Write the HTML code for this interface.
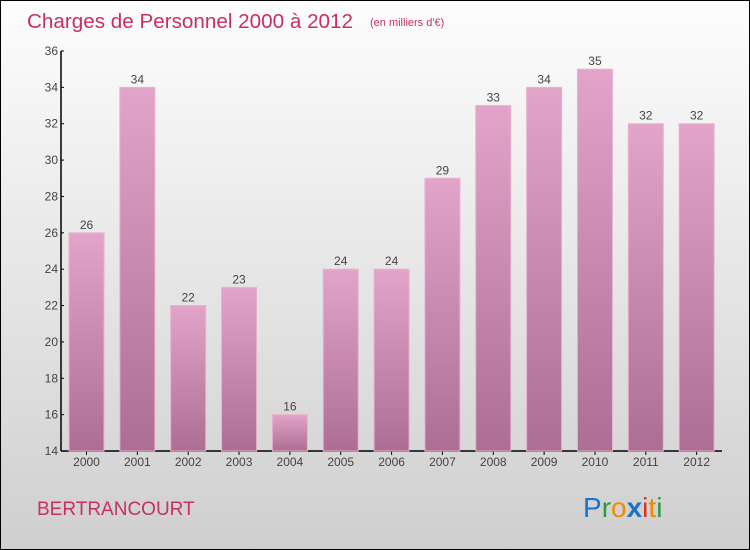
<!DOCTYPE html>
<html><head><meta charset="utf-8"><style>
body{margin:0}
#wrap{position:relative;width:748px;height:548px;border:1px solid #000;background:linear-gradient(#fdfdfd,#cfcfcf);font-family:"Liberation Sans",sans-serif;overflow:hidden}
</style></head><body>
<div id="wrap">
<svg width="748" height="548">
<defs><linearGradient id="bg" x1="0" y1="0" x2="0" y2="1"><stop offset="0" stop-color="#e2a4c8"/><stop offset="1" stop-color="#ad6e94"/></linearGradient></defs>
<text x="26" y="27" font-size="20" fill="#c8305f" textLength="326" lengthAdjust="spacingAndGlyphs">Charges de Personnel 2000 à 2012</text>
<text x="369" y="25" font-size="11" fill="#c8305f">(en milliers d'€)</text>
<g id="axes"></g><g id="bars"></g>
<text x="36" y="514" font-size="19" fill="#c8305f">BERTRANCOURT</text>
<g font-size="28" font-family="Liberation Sans"><text x="582" y="516"><tspan fill="#1a73c8">P</tspan><tspan fill="#2a9a3a">r</tspan><tspan fill="#f08a00">o</tspan><tspan fill="#1a73c8" font-weight="bold">x</tspan><tspan fill="#e03020">i</tspan><tspan fill="#f08a00">t</tspan><tspan fill="#2a9a3a">i</tspan></text></g>
</svg></div>
<script>
const categories=["2000","2001","2002","2003","2004","2005","2006","2007","2008","2009","2010","2011","2012"];
const values=[26,34,22,23,16,24,24,29,33,34,35,32,32];
const yTicks=[14,16,18,20,22,24,26,28,30,32,34,36];
const NS="http://www.w3.org/2000/svg";
const x0=60,x1=721,yMin=14,yMax=36,yTop=50,yBot=450;
const step=(x1-x0)/categories.length;
const y=v=>yBot-(v-yMin)/(yMax-yMin)*(yBot-yTop);
function mk(t,a,p){const e=document.createElementNS(NS,t);for(const k in a)e.setAttribute(k,a[k]);p.appendChild(e);return e;}
const ax=document.getElementById('axes'),bs=document.getElementById('bars');
let l=mk('line',{x1:x0,y1:yTop,x2:x0,y2:yBot,stroke:'#000','stroke-width':1.5},ax);

l=mk('line',{x1:x0,y1:yBot,x2:x1,y2:yBot,stroke:'#000','stroke-width':1.5},ax);

yTicks.forEach(t=>{
 const tk=mk('line',{x1:x0,y1:y(t),x2:x0+3,y2:y(t),stroke:'#000'},ax);
 
 const tx=mk('text',{x:x0-3,y:y(t)+4,'font-size':12,'text-anchor':'end',fill:'#444'},ax);tx.textContent=t;
 
});
categories.forEach((c,i)=>{
 const bx=x0+i*step+8,w=35,v=values[i];
 const r=mk('rect',{x:bx,y:y(v),width:w,height:yBot-y(v),fill:'url(#bg)',stroke:'#e7b2d0','stroke-width':1},bs);
 
 const vl=mk('text',{x:bx+w/2,y:y(v)-4,'font-size':12,'text-anchor':'middle',fill:'#444'},bs);vl.textContent=v;
 
 const tk=mk('line',{x1:bx+w/2,y1:yBot,x2:bx+w/2,y2:yBot+4,stroke:'#000'},ax);
 
 const cl=mk('text',{x:bx+w/2,y:yBot+15,'font-size':12,'text-anchor':'middle',fill:'#444'},ax);cl.textContent=c;
 
});
</script></body></html>
